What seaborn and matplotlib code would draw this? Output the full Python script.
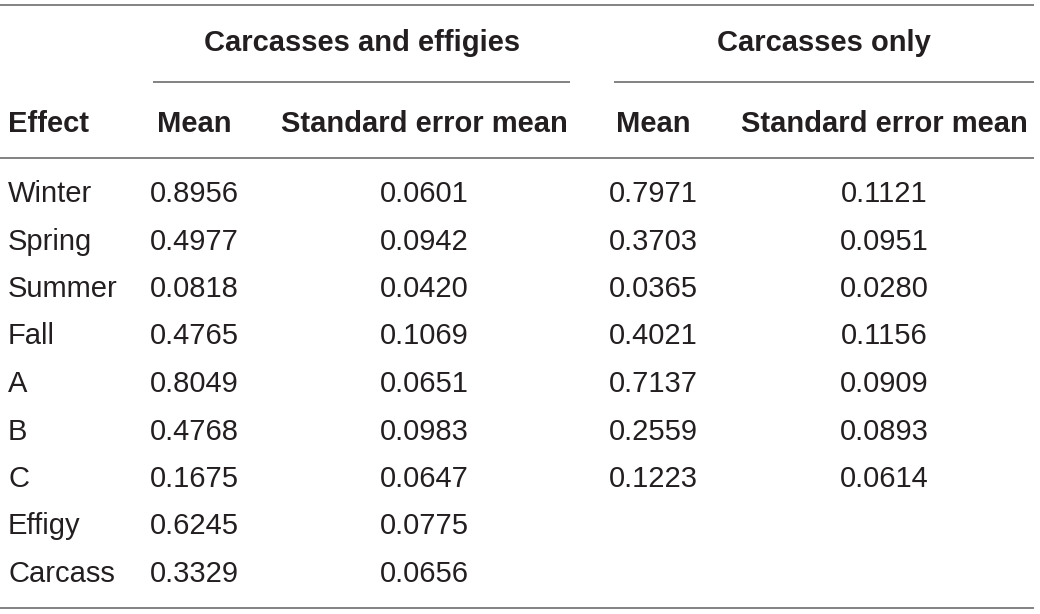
import matplotlib
matplotlib.use("Agg")
import matplotlib.pyplot as plt
import seaborn as sns

effects = ["Winter", "Spring", "Summer", "Fall", "A", "B", "C", "Effigy", "Carcass"]
ce_mean = ["0.8956", "0.4977", "0.0818", "0.4765", "0.8049", "0.4768", "0.1675", "0.6245", "0.3329"]
ce_sem = ["0.0601", "0.0942", "0.0420", "0.1069", "0.0651", "0.0983", "0.0647", "0.0775", "0.0656"]
co_mean = ["0.7971", "0.3703", "0.0365", "0.4021", "0.7137", "0.2559", "0.1223", "", ""]
co_sem = ["0.1121", "0.0951", "0.0280", "0.1156", "0.0909", "0.0893", "0.0614", "", ""]
group_labels = ["Carcasses and effigies", "Carcasses only"]
col_labels = ["Effect", "Mean", "Standard error mean", "Mean", "Standard error mean"]

sns.set_theme(style="white")
plt.rcParams["font.family"] = ["Liberation Sans", "DejaVu Sans"]

W, H = 1040, 614
fig = plt.figure(figsize=(W / 100, H / 100), dpi=100)
ax = fig.add_axes([0, 0, 1, 1])
ax.set_xlim(0, W)
ax.set_ylim(H, 0)
ax.axis("off")

txt = "#231f20"
line_c = "#6d6d6d"
fs_head = 21
fs_body = 21

col_x = [8, 194, 424, 653, 884]
col_ha = ["left", "center", "center", "center", "center"]
group_x = [362, 824]
group_spans = [(153, 570), (614, 1034)]

# rules
for y in (5, 158, 608):
    ax.plot([0, 1034], [y, y], color=line_c, lw=1.2, solid_capstyle="butt")
for x0, x1 in group_spans:
    ax.plot([x0, x1], [82, 82], color=line_c, lw=1.2, solid_capstyle="butt")

for gx, gl in zip(group_x, group_labels):
    ax.text(gx, 43, gl, ha="center", va="center", fontsize=fs_head,
            fontweight="bold", color=txt)
for cx, ha, cl in zip(col_x, col_ha, col_labels):
    ax.text(cx, 124, cl, ha=ha, va="center", fontsize=fs_head,
            fontweight="bold", color=txt)

row_y0 = 194
row_dy = 47.5
columns = [effects, ce_mean, ce_sem, co_mean, co_sem]
for i in range(len(effects)):
    y = row_y0 + i * row_dy
    for cx, ha, col in zip(col_x, col_ha, columns):
        ax.text(cx, y, col[i], ha=ha, va="center", fontsize=fs_body,
                fontweight="light", color=txt)

fig.savefig("out.png", dpi=100, facecolor="white")
